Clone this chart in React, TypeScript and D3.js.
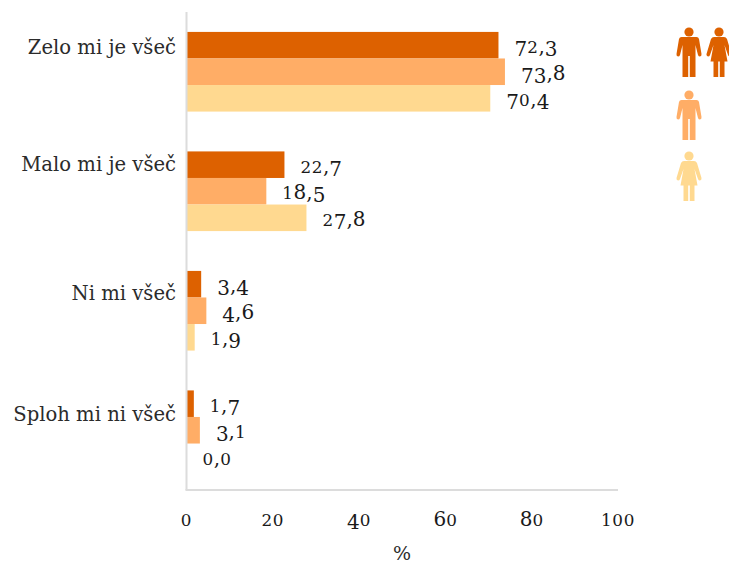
import React from 'react'
import * as d3 from 'd3'

const categories = ['Zelo mi je všeč', 'Malo mi je všeč', 'Ni mi všeč', 'Sploh mi ni všeč']
const allValues = [72.3, 22.7, 3.4, 1.7]
const menValues = [73.8, 18.5, 4.6, 3.1]
const womenValues = [70.4, 27.8, 1.9, 0.0]
const seriesColors = ['#dd6100', '#ffad66', '#ffd990']
const xTicks = [0, 20, 40, 60, 80, 100]

const width = 729
const height = 563
const serif = '"DejaVu Serif", serif'
const textColor = '#2b2b2b'
const numberSize = 20
// the source places these labels by hand, not on the band centre
const categoryBaselines = [54, 171, 300, 421]

const x = d3.scaleLinear().domain([0, 100]).range([186.5, 618])
const y = d3.scaleBand<string>().domain(categories).range([12, 490]).paddingInner(1 / 3).paddingOuter(1 / 6)
const seriesBand = d3.scaleBand<number>().domain([0, 1, 2]).range([0, y.bandwidth()])
const series = [allValues, menValues, womenValues]

const fmt = (v: number) => v.toFixed(1).replace('.', ',')

// DejaVu has no old-style figures, so fake them glyph by glyph
const OldStyle = ({ text, size }: { text: string; size: number }) => (
  <>
    {text.split('').map((ch, i) => {
      const small = '012'.includes(ch)
      const drop = '34579'.includes(ch)
      return (
        <tspan
          key={i}
          fontSize={small ? size * 0.84 : size}
          style={{
            baselineShift: drop ? `${-size * 0.17}px` : '0px',
            letterSpacing: small ? '0.6px' : '0px',
          }}
        >
          {ch}
        </tspan>
      )
    })}
  </>
)

const Man = ({ cx, top, fill }: { cx: number; top: number; fill: string }) => (
  <g transform={`translate(${cx},${top})`} fill={fill}>
    <circle cx={0} cy={5} r={4.6} />
    <path d="M-7.5 10 H7.5 Q9.5 10 10 12 L12.5 27 Q12.8 29 11 29.5 Q9.5 29.5 9 28 L6.5 18 V50 H0.8 V29 H-0.8 V50 H-6.5 V18 L-9 28 Q-9.5 29.5 -11 29.5 Q-12.8 29 -12.5 27 L-10 12 Q-9.5 10 -7.5 10 Z" />
  </g>
)

const Woman = ({ cx, top, fill }: { cx: number; top: number; fill: string }) => (
  <g transform={`translate(${cx},${top})`} fill={fill}>
    <circle cx={0} cy={5} r={4.6} />
    <path d="M-5 10 H5 Q7 10 8 12 L12.5 27 Q12.8 29 11 29.5 Q9.5 29.5 9 28 L5.5 18 L8.5 34.5 H5.5 V50 H0.8 V34.5 H-0.8 V50 H-5.5 V34.5 H-8.5 L-5.5 18 L-9 28 Q-9.5 29.5 -11 29.5 Q-12.8 29 -12.5 27 L-8 12 Q-7 10 -5 10 Z" />
  </g>
)

const App = () => {
  return (
    <svg width={width} height={height} style={{ position: 'absolute', left: 0, top: 0, fontFamily: serif }}>
      {/* bars and value labels */}
      {categories.map((c, i) => (
        <g key={c}>
          {series.map((values, s) => {
            const by = (y(c) as number) + (seriesBand(s) as number)
            return (
              <g key={s}>
                <rect
                  x={x(0)}
                  y={by}
                  width={x(values[i]) - x(0)}
                  height={seriesBand.bandwidth()}
                  fill={seriesColors[s]}
                />
                <text
                  x={x(values[i]) + 16}
                  y={by + seriesBand.bandwidth() / 2 + 8}
                  fontSize={numberSize}
                  fill="#1a1a1a"
                >
                  <OldStyle text={fmt(values[i])} size={numberSize} />
                </text>
              </g>
            )
          })}
          <text x={176} y={categoryBaselines[i]} textAnchor="end" fontSize={19.6} fill={textColor}>
            {c}
          </text>
        </g>
      ))}

      {/* axes */}
      <line x1={x(0)} x2={x(0)} y1={12} y2={490} stroke="#dcdcdc" strokeWidth={2} />
      <line x1={x(0) - 1} x2={x(100)} y1={490} y2={490} stroke="#dcdcdc" strokeWidth={2} />
      {xTicks.map(t => (
        <text key={t} x={x(t)} y={526} textAnchor="middle" fontSize={numberSize} fill="#1a1a1a">
          <OldStyle text={String(t)} size={numberSize} />
        </text>
      ))}
      <text x={402} y={560} textAnchor="middle" fontSize={19} fill={textColor}>
        %
      </text>

      {/* legend pictograms */}
      <Man cx={689} top={27} fill={seriesColors[0]} />
      <Woman cx={719} top={27} fill={seriesColors[0]} />
      <Man cx={689} top={90} fill={seriesColors[1]} />
      <Woman cx={689} top={151} fill={seriesColors[2]} />
    </svg>
  )
}

export default App
